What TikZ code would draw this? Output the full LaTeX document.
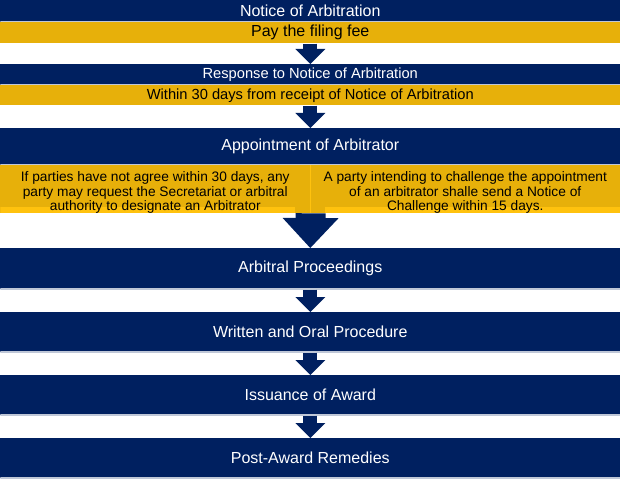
\documentclass[tikz,border=0pt]{standalone}
\usepackage{fontspec}
\setmainfont{Liberation Sans}
\usetikzlibrary{arrows.meta}
\definecolor{navy}{RGB}{0,32,96}
\definecolor{gold}{RGB}{231,176,10}
\definecolor{goldlite}{RGB}{255,194,14}

\begin{document}
\begin{tikzpicture}[x=0.75pt, y=-0.75pt,
    bar/.style={rectangle, anchor=north west, inner sep=0pt, minimum width=465pt},
    navybar/.style={bar, fill=navy, text=white, font=\fontsize{12}{14}\selectfont,
        path picture={\draw[navy!25, line width=1.2pt] (path picture bounding box.south west) -- (path picture bounding box.south east);}},
    goldbar/.style={bar, fill=gold, text=black, font=\fontsize{12}{14}\selectfont},
    note/.style={rectangle, anchor=north west, inner sep=0pt, fill=gold, minimum width=232.5pt,
        minimum height=35.25pt, align=center, font=\fontsize{10.3}{10.6}\selectfont},
    leftnote/.style={note, path picture={\fill[goldlite] ([yshift=4.5pt]path picture bounding box.south west) rectangle ([xshift=-11.25pt]path picture bounding box.south east);}},
    rightnote/.style={note, path picture={\fill[goldlite] ([xshift=11.25pt, yshift=4.5pt]path picture bounding box.south west) rectangle (path picture bounding box.south east);}},
    flow/.style={draw=navy, line width=10.5pt, -{Triangle[width=22.5pt, length=11.25pt, line width=0pt]}},
    bigflow/.style={draw=navy, line width=22.5pt, -{Triangle[width=42pt, length=22.5pt, line width=0pt]}}]
    \useasboundingbox (0,0) rectangle (620,481);

    % Filing
    \node[navybar, minimum height=16.5pt] (notice) at (0,0) {Notice of Arbitration};
    \node[goldbar, minimum height=15.75pt] (fee) at (0,22) {Pay the filing fee};

    % Response
    \node[navybar, minimum height=15.75pt, font=\fontsize{11}{13}\selectfont] (resp) at (0,64) {Response to Notice of Arbitration};
    \node[goldbar, minimum height=15pt, font=\fontsize{11}{13}\selectfont] (within) at (0,85) {Within 30 days from receipt of Notice of Arbitration};

    % Appointment
    \node[navybar, minimum height=27.75pt] (appoint) at (0,128) {Appointment of Arbitrator};
    \node[leftnote] (agree) at (0,165) {\rule{0pt}{12.5pt}If parties have not agree within 30 days, any\\party may request the Secretariat or arbitral\\authority to designate an Arbitrator};
    \node[rightnote] (challenge) at (310,165) {\rule{0pt}{12.5pt}A party intending to challenge the appointment\\of an arbitrator shalle send a Notice of\\Challenge within 15 days.};
    \draw[goldlite, line width=0.6pt] (agree.north east) -- (agree.south east);

    % Proceedings
    \node[navybar, minimum height=30.75pt] (procs) at (0,248) {Arbitral Proceedings};
    \node[navybar, minimum height=30pt] (oral) at (0,312) {Written and Oral Procedure};
    \node[navybar, minimum height=30pt] (award) at (0,375) {Issuance of Award};
    \node[navybar, minimum height=30pt] (remedy) at (0,438) {Post-Award Remedies};

    % Arrows
    \draw[flow] (fee.south) -- (resp.north);
    \draw[flow] (within.south) -- (appoint.north);
    \draw[bigflow] (agree.south east) -- (procs.north);
    \draw[flow] (procs.south) -- (oral.north);
    \draw[flow] (oral.south) -- (award.north);
    \draw[flow] (award.south) -- (remedy.north);
\end{tikzpicture}
\end{document}
